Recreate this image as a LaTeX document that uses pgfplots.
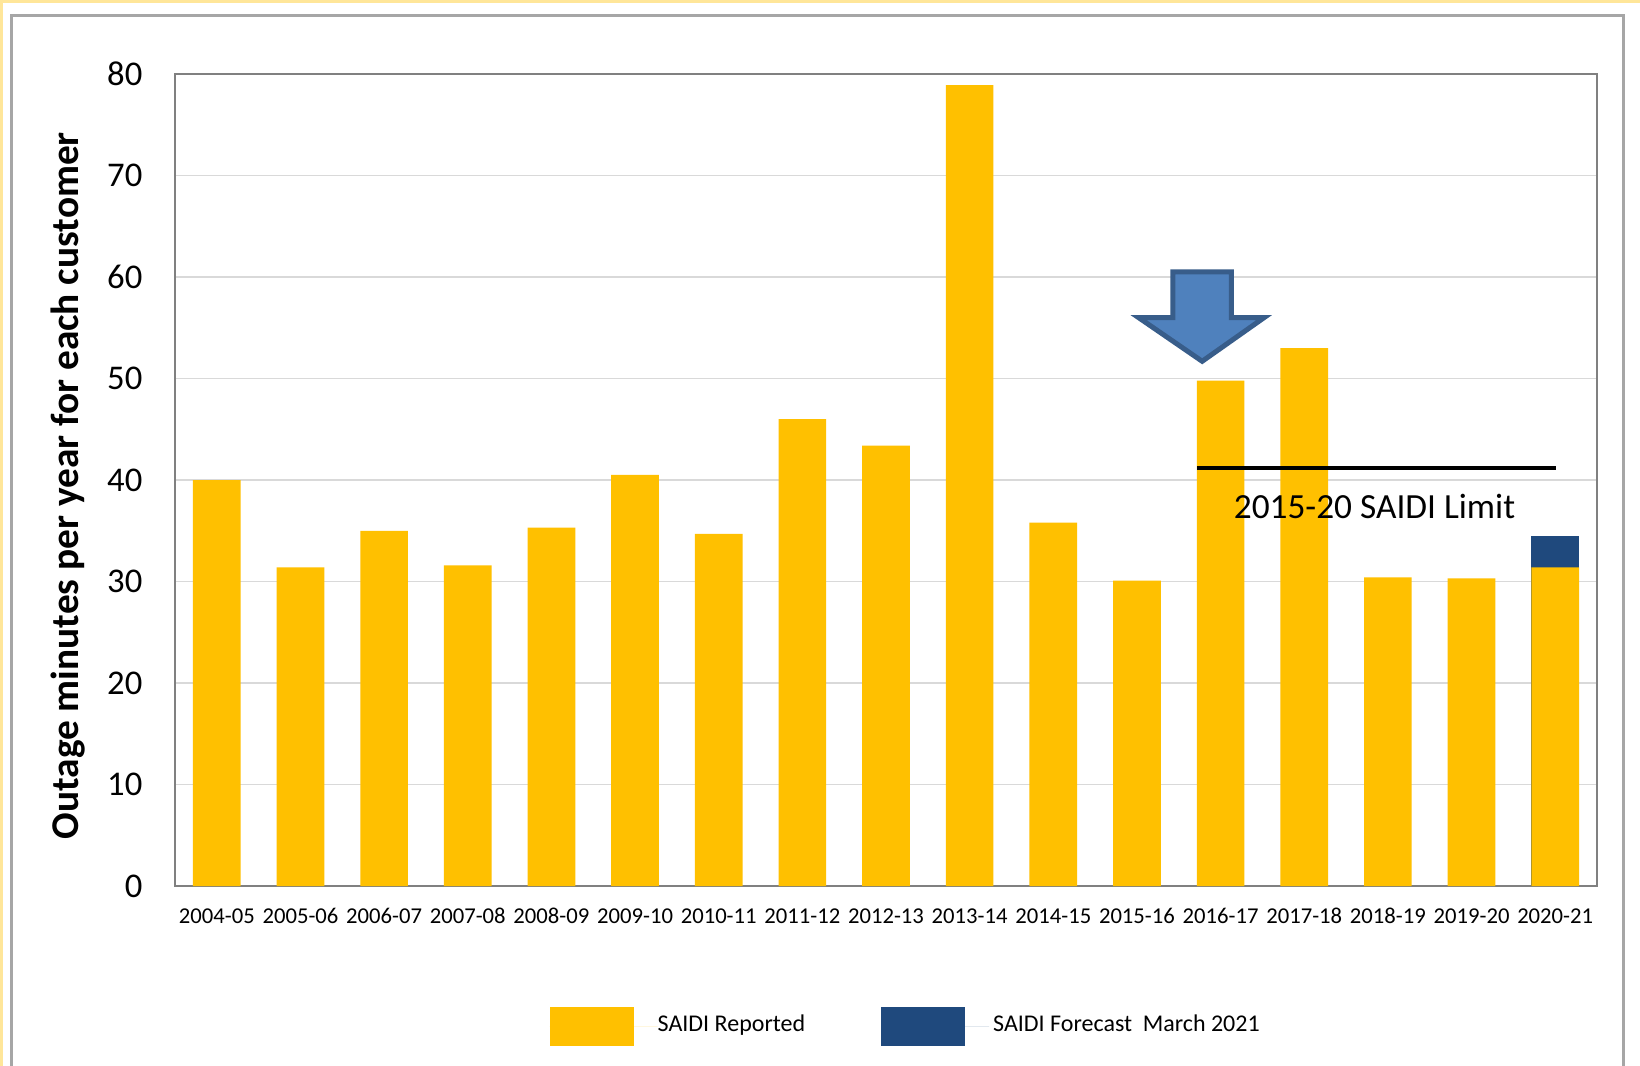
\documentclass[border=0pt]{standalone}
\usepackage{pgfplots}
\pgfplotsset{compat=1.18}
\usepackage{fontspec}
\setmainfont{Carlito}
\definecolor{saidiyellow}{HTML}{FFC000}
\definecolor{saidiblue}{HTML}{1F497D}
\definecolor{arrowfill}{HTML}{4F81BD}
\definecolor{arrowborder}{HTML}{385D8A}
\definecolor{framegray}{HTML}{A6A6A6}
\definecolor{axisgray}{HTML}{808080}
\definecolor{gridgray}{HTML}{D9D9D9}
\definecolor{paleyellow}{HTML}{FFE699}
\begin{document}
\begin{tikzpicture}
\path[use as bounding box] (-52.5pt,-53.7pt) rectangle (439.5pt,265.8pt);
\fill[white] (-52.5pt,-53.7pt) rectangle (439.5pt,265.8pt);
\draw[paleyellow, line width=1pt] (-52.2pt,-60pt) -- (-52.2pt,265.5pt) -- (445pt,265.5pt);
\draw[framegray, line width=0.9pt] (-48.9pt,-60pt) -- (-48.9pt,261.3pt) -- (434.4pt,261.3pt) -- (434.4pt,-60pt);
\begin{axis}[
  at={(0,0)}, anchor=south west,
  scale only axis,
  width=426.6pt, height=243.6pt,
  xmin=-0.5, xmax=16.5,
  ymin=0, ymax=80,
  xtick={0,...,16},
  xticklabels={2004-05,2005-06,2006-07,2007-08,2008-09,2009-10,2010-11,2011-12,2012-13,2013-14,2014-15,2015-16,2016-17,2017-18,2018-19,2019-20,2020-21},
  ytick={0,10,...,80},
  major tick length=0pt,
  ymajorgrids,
  major grid style={gridgray, line width=0.5pt},
  axis line style={axisgray, line width=0.6pt},
  /pgf/number format/assume math mode=true,
  xticklabel style={font=\fontsize{6.8}{8}\selectfont, inner sep=0pt, text height=5pt, text depth=0pt, yshift=-6.0pt},
  yticklabel style={font=\fontsize{10.4}{12}\selectfont, inner sep=0pt, xshift=-9.6pt},
  ylabel={Outage minutes per year for each customer},
  ylabel style={at={(axis description cs:-0.0752,0.493)}, anchor=center, font=\bfseries\fontsize{11.8}{14}\selectfont},
  legend columns=2,
  legend style={draw=none, fill=none, at={(axis description cs:0.263,-0.1724)}, anchor=west, inner sep=0pt,
    font=\fontsize{7.2}{9}\selectfont, nodes={inner xsep=0pt},
    /tikz/every even column/.append style={column sep=22.8pt}},
  legend image code/.code={\fill[#1] (0pt,-5.85pt) rectangle (25.2pt,5.85pt); \path (0pt,0pt) -- (32.4pt,0pt);},
]
\addlegendimage{fill=saidiyellow, draw=none}
\addlegendentry{SAIDI Reported}
\addlegendimage{fill=saidiblue, draw=none}
\addlegendentry{\hspace{1.2pt}SAIDI Forecast\hspace{3.2pt}March 2021}
% forecast bar (drawn first, covered by reported part)
\addplot[ybar, bar width=0.57, bar shift=0pt, fill=saidiblue, draw=none, forget plot]
  coordinates {(16,34.5)};
\addplot[ybar, bar width=0.57, bar shift=0pt, fill=saidiyellow, draw=none, forget plot]
  coordinates {
  (0,40.0) (1,31.4) (2,35.0) (3,31.6) (4,35.3) (5,40.5) (6,34.7) (7,46.0) (8,43.4)
  (9,78.9) (10,35.8) (11,30.1) (12,49.8) (13,53.0) (14,30.4) (15,30.3) (16,31.4)};
% 2015-20 SAIDI limit
\addplot[black, line width=1.2pt, forget plot] coordinates {(11.72,41.2) (16.01,41.2)};
\node[font=\fontsize{10.6}{12}\selectfont, inner sep=0pt] at (axis cs:13.84,37.4) {2015-20 SAIDI Limit};
% arrow
\addplot[draw=arrowborder, fill=arrowfill, line width=1.5pt, line join=miter, forget plot]
  coordinates {(11.43,60.5) (12.13,60.5) (12.13,56.0) (12.52,56.0) (11.78,51.7) (11.02,56.0) (11.43,56.0)} -- cycle;
\end{axis}
\end{tikzpicture}
\end{document}
